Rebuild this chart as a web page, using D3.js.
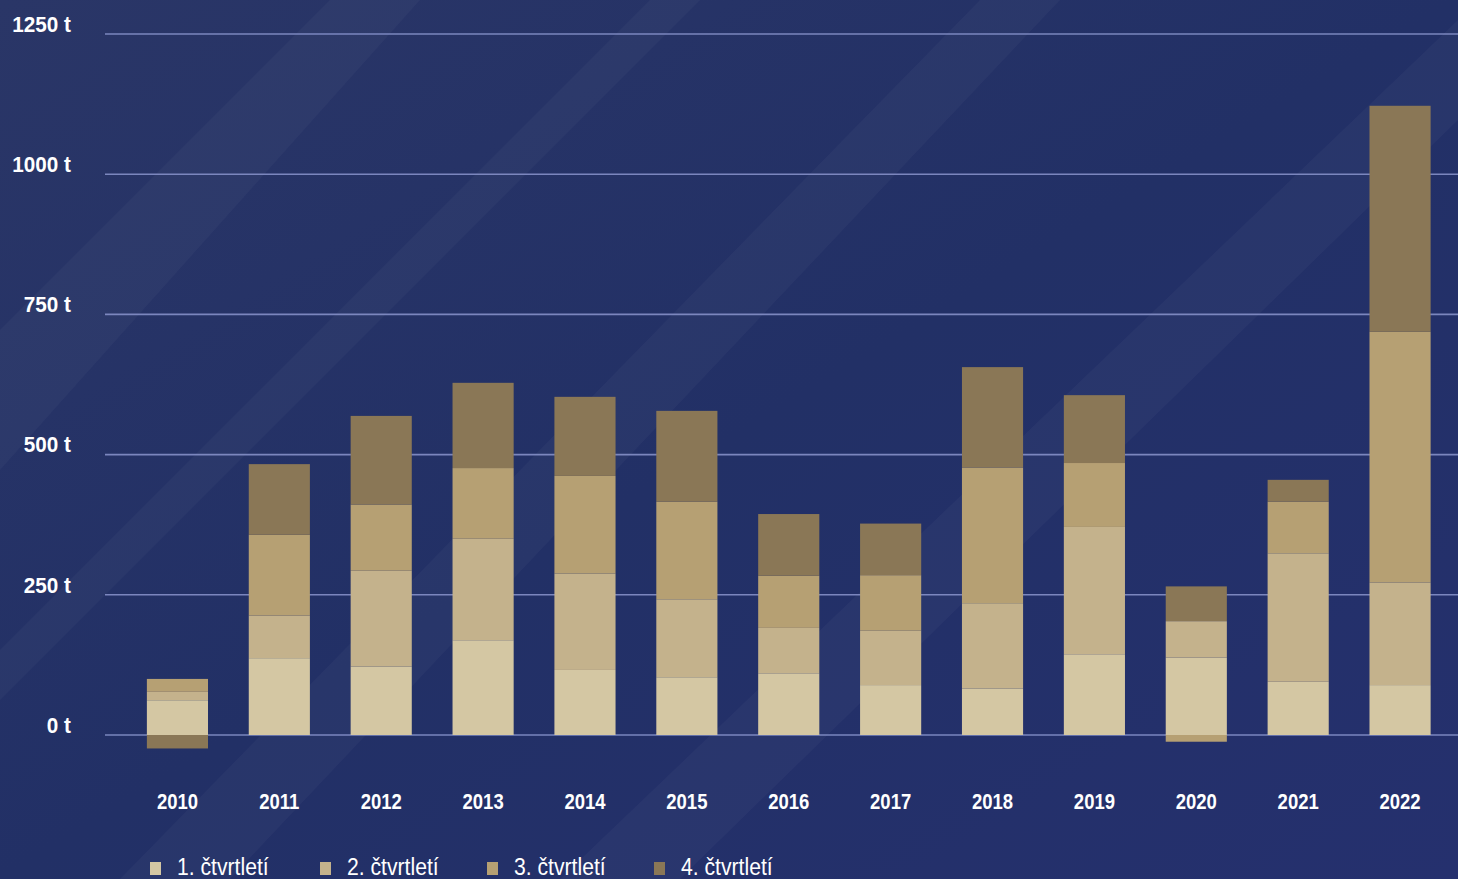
<!DOCTYPE html>
<html>
<head>
<meta charset="utf-8">
<script src="https://cdn.jsdelivr.net/npm/d3@7"></script>
<style>
  html, body { margin: 0; padding: 0; background: #222d63; }
  svg { display: block; }
  text { font-family: "Liberation Sans", Arial, sans-serif; }
</style>
</head>
<body>
<svg id="chart" width="1458" height="879"></svg>
<script>
// ---- data ----
const years = ["2010","2011","2012","2013","2014","2015","2016","2017","2018","2019","2020","2021","2022"];
const seriesNames = ["1. čtvrtletí","2. čtvrtletí","3. čtvrtletí","4. čtvrtletí"];
const q1 = [62, 137, 122, 169, 116, 103, 110, 89, 83, 144, 138, 95, 89];
const q2 = [15, 76, 171, 181, 172, 139, 81, 97, 152, 227, 65, 229, 183];
const q3 = [23, 144, 118, 126, 174, 174, 93, 99, 242, 114, -12, 92, 447];
const q4 = [-24, 126, 158, 152, 141, 162, 110, 92, 179, 121, 62, 39, 403];
const yTicks = [0, 250, 500, 750, 1000, 1250];
const colors = ["#d4c7a3", "#c4b28c", "#b6a073", "#8a7756"];

const W = 1458, H = 879;
const svg = d3.select("#chart");

// narrow-font look: compress text horizontally
function condense(sel, k) {
  sel.each(function() {
    const w = this.getComputedTextLength();
    d3.select(this).attr("textLength", w * k).attr("lengthAdjust", "spacingAndGlyphs");
  });
}

// background
const defs = svg.append("defs");
const bg = defs.append("linearGradient").attr("id","bg").attr("x1","0").attr("y1","0").attr("x2","1").attr("y2","1");
bg.append("stop").attr("offset","0").attr("stop-color","#2a3667");
bg.append("stop").attr("offset","0.5").attr("stop-color","#223066");
bg.append("stop").attr("offset","1").attr("stop-color","#25306e");
svg.append("rect").attr("width", W).attr("height", H).attr("fill", "url(#bg)");

// subtle diagonal stripes
const stripes = [
  [[0,330],[330,0],[420,0],[0,470]],
  [[120,879],[980,0],[1060,0],[230,879]],
  [[560,879],[1458,20],[1458,120],[680,879]],
  [[0,650],[650,0],[700,0],[0,700]]
];
svg.append("g").selectAll("path").data(stripes).join("path")
  .attr("d", d => "M" + d.map(p => p.join(",")).join("L") + "Z")
  .attr("fill", "#ffffff").attr("opacity", 0.03);

// scales
const x = d3.scaleBand().domain(years).range([126.5, 1451]).paddingInner(0.4).paddingOuter(0.2);
const y = d3.scaleLinear().domain([0, 1250]).range([735, 34]);

// gridlines
svg.append("g").selectAll("line").data(yTicks).join("line")
  .attr("x1", 105).attr("x2", W)
  .attr("y1", d => y(d)).attr("y2", d => y(d))
  .attr("stroke", "#8590c8").attr("stroke-width", 1.6).attr("opacity", 0.9);

// y labels
svg.append("g").selectAll("text").data(yTicks).join("text")
  .attr("x", 71).attr("y", d => y(d) - 8)
  .attr("text-anchor", "end").attr("dominant-baseline", "middle")
  .attr("fill", "#ffffff").attr("font-size", 22).attr("font-weight", "bold")
  .text(d => d + " t")
  .call(condense, 0.94);

// stacked bars
const table = years.map((yr, i) => ({year: yr, s0: q1[i], s1: q2[i], s2: q3[i], s3: q4[i]}));
const stack = d3.stack().keys(["s0","s1","s2","s3"]).offset(d3.stackOffsetDiverging);
const layers = stack(table);

svg.append("g").selectAll("g").data(layers).join("g")
  .attr("fill", (d, i) => colors[i])
  .selectAll("rect").data(d => d).join("rect")
  .attr("x", d => x(d.data.year))
  .attr("width", x.bandwidth())
  .attr("y", d => y(Math.max(d[0], d[1])))
  .attr("height", d => Math.abs(y(d[0]) - y(d[1])));

// x axis labels
const xAxis = d3.axisBottom(x).tickSize(0).tickPadding(0);
const gx = svg.append("g").attr("transform", "translate(0,793)").call(xAxis);
gx.select(".domain").remove();
gx.selectAll("text")
  .attr("fill", "#ffffff").attr("font-size", 22).attr("font-weight", "bold")
  .attr("font-family", "'Liberation Sans', Arial, sans-serif")
  .call(condense, 0.84);

// legend
const lg = svg.append("g").selectAll("g").data(seriesNames).join("g")
  .attr("transform", (d, i) => `translate(${[150, 320, 487, 654][i]},0)`);
lg.append("rect").attr("x", 0).attr("y", 862).attr("width", 11).attr("height", 13)
  .attr("fill", (d, i) => colors[i]);
lg.append("text").attr("x", 27).attr("y", 869).attr("dominant-baseline", "middle")
  .attr("fill", "#ffffff").attr("font-size", 23)
  .text(d => d)
  .call(condense, 0.92);
</script>
</body>
</html>
